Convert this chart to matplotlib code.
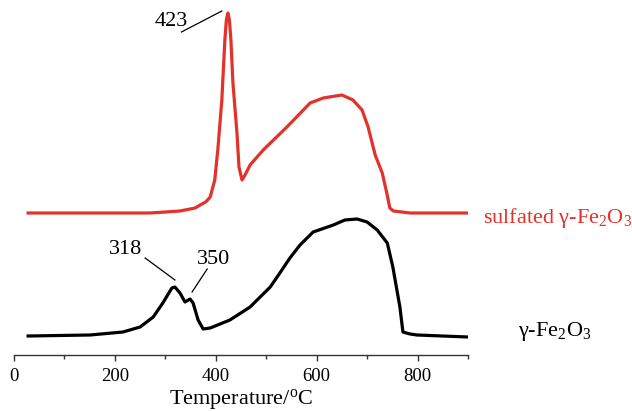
import numpy as np
import matplotlib
matplotlib.use("Agg")
import matplotlib.pyplot as plt

plt.rcParams['font.family'] = ['Liberation Serif', 'DejaVu Serif']
plt.rcParams['mathtext.fontset'] = 'custom'
plt.rcParams['mathtext.rm'] = 'Liberation Serif'
plt.rcParams['mathtext.it'] = 'Liberation Serif:italic'

# profiles (temperature in C, signal in a.u.)
temp_sulfated = [28, 91, 210, 270, 329, 359, 369, 380, 389, 398, 404, 408, 412,
                 418, 421, 424, 427, 430, 434, 442, 446, 452, 458, 468, 494, 541,
                 587, 613, 650, 672, 690, 702, 716, 730, 739, 745, 752, 785, 900]
sig_sulfated = [142, 142, 142, 142, 144, 147, 150, 153, 158, 175, 205, 230, 255,
                315, 335, 342, 335, 315, 272, 222, 188, 175, 180, 190, 205, 228,
                252, 257, 260, 255, 245, 228, 200, 182, 162, 147, 144, 142, 142]

temp_gamma = [28, 151, 216, 250, 276, 295, 313, 319, 329, 339, 349, 355, 365,
              375, 389, 428, 468, 508, 527, 547, 567, 593, 633, 656, 680, 700,
              720, 740, 751, 765, 771, 785, 799, 900]
sig_gamma = [19, 20, 23, 28, 38, 52, 67, 68, 62, 53, 56, 52, 35,
             26, 27, 35, 48, 68, 82, 97, 110, 123, 130, 135, 136, 133,
             125, 112, 88, 48, 23, 21, 20, 18]

peak_labels = ["423", "318", "350"]
xticks = [0, 200, 400, 600, 800]

red = '#e3312b'

fig = plt.figure(figsize=(6.32, 4.11), dpi=100)
ax = fig.add_axes([14 / 632, 56 / 411, 454 / 632, 355 / 411])

ax.plot(temp_sulfated, sig_sulfated, color=red, lw=2.3, solid_joinstyle='round')
ax.plot(temp_gamma, sig_gamma, color='black', lw=2.3, solid_joinstyle='round')

ax.set_xlim(0, 900)
ax.set_ylim(0, 355)

for s in ['top', 'right', 'left']:
    ax.spines[s].set_visible(False)
ax.spines['bottom'].set_linewidth(1.0)
ax.spines['bottom'].set_color('#333333')
ax.set_yticks([])
ax.set_xticks(xticks)
ax.set_xticks(np.arange(100, 901, 200), minor=True)
ax.tick_params(axis='x', which='major', direction='out', length=4, width=1.0,
               labelsize=13.5, pad=5, color='#333333')
ax.tick_params(axis='x', which='minor', direction='out', length=3, width=1.0,
               color='#333333')
ax.set_xlabel(r'Temperature/$^{\mathrm{o}}$C', fontsize=16, labelpad=1.5)

# peak annotations with leader lines
ax.text(311, 333, peak_labels[0], fontsize=16, ha='center', va='center')
ax.plot([332, 412], [323, 344], color='black', lw=0.9)
ax.text(222, 106, peak_labels[1], fontsize=16, ha='center', va='center')
ax.plot([260, 319], [97, 75], color='black', lw=0.9)
ax.text(395, 96, peak_labels[2], fontsize=16, ha='center', va='center')
ax.plot([383, 353], [86, 63], color='black', lw=0.9)

# curve labels on the right
ax.text(930, 132, 'sulfated γ-Fe$_2$O$_3$', fontsize=16, color=red,
        ha='left', va='baseline', clip_on=False)
ax.text(999, 19, 'γ-Fe$_2$O$_3$', fontsize=16, color='black',
        ha='left', va='baseline', clip_on=False)

fig.savefig('out.png', dpi=100)
